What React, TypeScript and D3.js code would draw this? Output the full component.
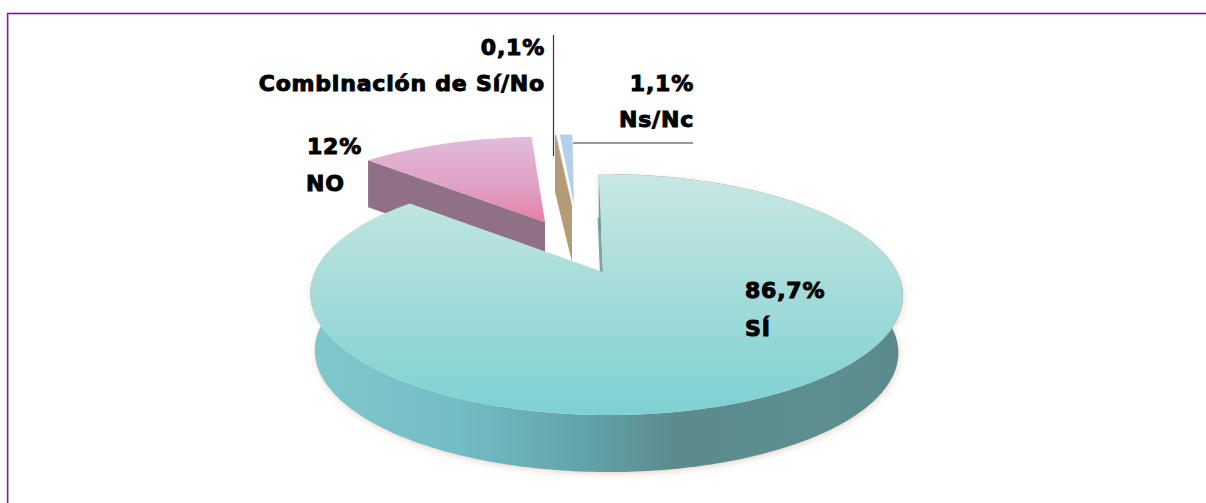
import React from "react";
import * as d3 from "d3";

const categories = ["SÍ", "NO", "Combinación de Sí/No", "Ns/Nc"];
const values = [86.7, 12, 0.1, 1.1];
const valueLabels = ["86,7%", "12%", "0,1%", "1,1%"];

const W = 1206, H = 503;
const APEX = { x: 603, y: 272 };
const RX = 291, RY = 116.3, P = 0.187;
const START = (-1 * Math.PI) / 180;
const DEG = Math.PI / 180;

// per-slice explode offset, scale and small rotation
const layout = [
  { x: APEX.x, y: APEX.y, sx: 1, sy: 1, depth: 57, rot: 0 },
  { x: 545, y: 222, sx: 0.95, sy: 0.87, depth: 47, rot: 2 * DEG },
  { x: 572, y: 205, sx: 0.75, sy: 0.72, depth: 57, rot: 0 },
  { x: 574, y: 205, sx: 0.75, sy: 0.72, depth: 57, rot: 0.5 * DEG },
];
const labelPos = [
  { x: 745, y1: 298, y2: 336, anchor: "start" },
  { x: 362, y1: 154, y2: 191, anchor: "end", x2: 306, anchor2: "start" },
  { x: 545, y1: 55, y2: 91, anchor: "end" },
  { x: 694, y1: 91, y2: 127, anchor: "end" },
];

const arcs = d3.pie<number>().sort(null).startAngle(START).endAngle(START + 2 * Math.PI)(values);
const line = d3.line<[number, number]>().x((d) => d[0]).y((d) => d[1]);

function proj(i: number, a0: number, r = 1, dz = 0): [number, number] {
  const l = layout[i];
  const a = a0 + l.rot;
  const u = r * Math.sin(a), v = -r * Math.cos(a);
  const den = 1 - P * v;
  return [l.x + (l.sx * RX * u) / den + 3 * (v + 1) * r, l.y + (l.sy * RY * v) / den + dz];
}
function arcPts(i: number, dz = 0): [number, number][] {
  const a = arcs[i];
  const n = Math.max(4, Math.ceil(((a.endAngle - a.startAngle) * 180) / Math.PI));
  return d3.range(n + 1).map((k) => proj(i, a.startAngle + ((a.endAngle - a.startAngle) * k) / n, 1, dz));
}
const topPath = (i: number) => line([proj(i, 0, 0), ...arcPts(i)]) + "Z";
const wallPath = (i: number) => {
  const d = layout[i].depth;
  const bottom = arcPts(i, d).map(([x, y]): [number, number] => [607 + (x - 607) * 0.985, y]);
  return line([...arcPts(i), ...bottom.reverse()]) + "Z";
};
const edgeWall = (i: number, ang: number) => {
  const d = layout[i].depth;
  const c = proj(i, 0, 0), o = proj(i, ang);
  return line([c, o, [o[0], o[1] + d], [c[0], c[1] + d]]) + "Z";
};
const siSliver = () => {
  const c = proj(0, 0, 0), o = proj(0, arcs[0].startAngle);
  const p: [number, number] = [o[0] + (c[0] - o[0]) * 0.45, o[1] + (c[1] - o[1]) * 0.45];
  return line([p, c, [c[0] - 3, c[1] + 3], [p[0] - 3, p[1]]]) + "Z";
};

const wallStops: [number, string][] = [
  [0, "#7fc8cc"], [0.25, "#72bcc4"], [0.45, "#63a4aa"], [0.62, "#5b8a8d"], [0.85, "#5d8f91"], [1, "#5c8a8c"],
];

export default function App() {
  const font = { fontFamily: "'DejaVu Sans'", fontWeight: 700, fontSize: 22, letterSpacing: 0.8, fill: "#000", stroke: "#000", strokeWidth: 1 };
  return (
    <svg width={W} height={H} style={{ position: "absolute", left: 0, top: 0, background: "#fff" }}>
      <defs>
        <filter id="soft" x="-5%" y="-5%" width="110%" height="110%"><feGaussianBlur stdDeviation="0.6" /></filter>
        <filter id="shadow" x="-10%" y="-10%" width="120%" height="120%"><feGaussianBlur stdDeviation="3" /></filter>
        <linearGradient id="siTop" gradientUnits="userSpaceOnUse" x1="0" y1="174" x2="0" y2="415">
          <stop offset="0" stopColor="#c8e8e4" />
          <stop offset="0.45" stopColor="#a8dcda" />
          <stop offset="1" stopColor="#7dd1d2" />
        </linearGradient>
        <linearGradient id="siWall" gradientUnits="userSpaceOnUse" x1="312" y1="0" x2="905" y2="0">
          {wallStops.map(([o, c]) => <stop key={o} offset={o} stopColor={c} />)}
        </linearGradient>
        <linearGradient id="noTop" gradientUnits="userSpaceOnUse" x1="0" y1="136" x2="0" y2="222">
          <stop offset="0" stopColor="#e2bcdc" />
          <stop offset="0.6" stopColor="#e0a0c4" />
          <stop offset="1" stopColor="#e47ea6" />
        </linearGradient>
      </defs>

      <line x1={8.5} y1={14} x2={8.5} y2={H} stroke="#d9b8e0" strokeWidth={1} />
      <line x1={7} y1={12.5} x2={W} y2={12.5} stroke="#d9b8e0" strokeWidth={1} />
      <line x1={7} y1={14.5} x2={W} y2={14.5} stroke="#d9b8e0" strokeWidth={1} />
      <line x1={7.5} y1={13} x2={7.5} y2={H} stroke="#6a2c8c" strokeWidth={1.4} />
      <line x1={7} y1={13.5} x2={W} y2={13.5} stroke="#5f2580" strokeWidth={1.2} />

      <path d={wallPath(0)} fill="#d8b8a4" opacity={0.55} filter="url(#shadow)" transform="translate(1,2)" />

      <g filter="url(#soft)">
        <path d={edgeWall(1, arcs[1].startAngle)} fill="#8f7086" />
        <path d={topPath(1)} fill="url(#noTop)" />
        <path d={edgeWall(2, arcs[2].startAngle)} fill="#b59a78" />
        <path d={topPath(2)} fill="#b59a78" />
        <path d={topPath(3)} fill="#b6d0ec" />
        <path d={siSliver()} fill="#7aa5a5" />
        <path d={wallPath(0)} fill="url(#siWall)" />
        <path d={topPath(0)} fill="url(#siTop)" />
      </g>

      <line x1={553.5} y1={35} x2={553.5} y2={156} stroke="#333" strokeWidth={1.2} />
      <line x1={573} y1={143} x2={693} y2={143} stroke="#333" strokeWidth={1.2} />

      {categories.map((c, i) => {
        const p = labelPos[i];
        return (
          <g key={c} style={font as any}>
            <text x={p.x} y={p.y1} textAnchor={p.anchor as any}>{valueLabels[i]}</text>
            <text x={p.x2 ?? p.x} y={p.y2} textAnchor={(p.anchor2 ?? p.anchor) as any}>{c}</text>
          </g>
        );
      })}
    </svg>
  );
}
